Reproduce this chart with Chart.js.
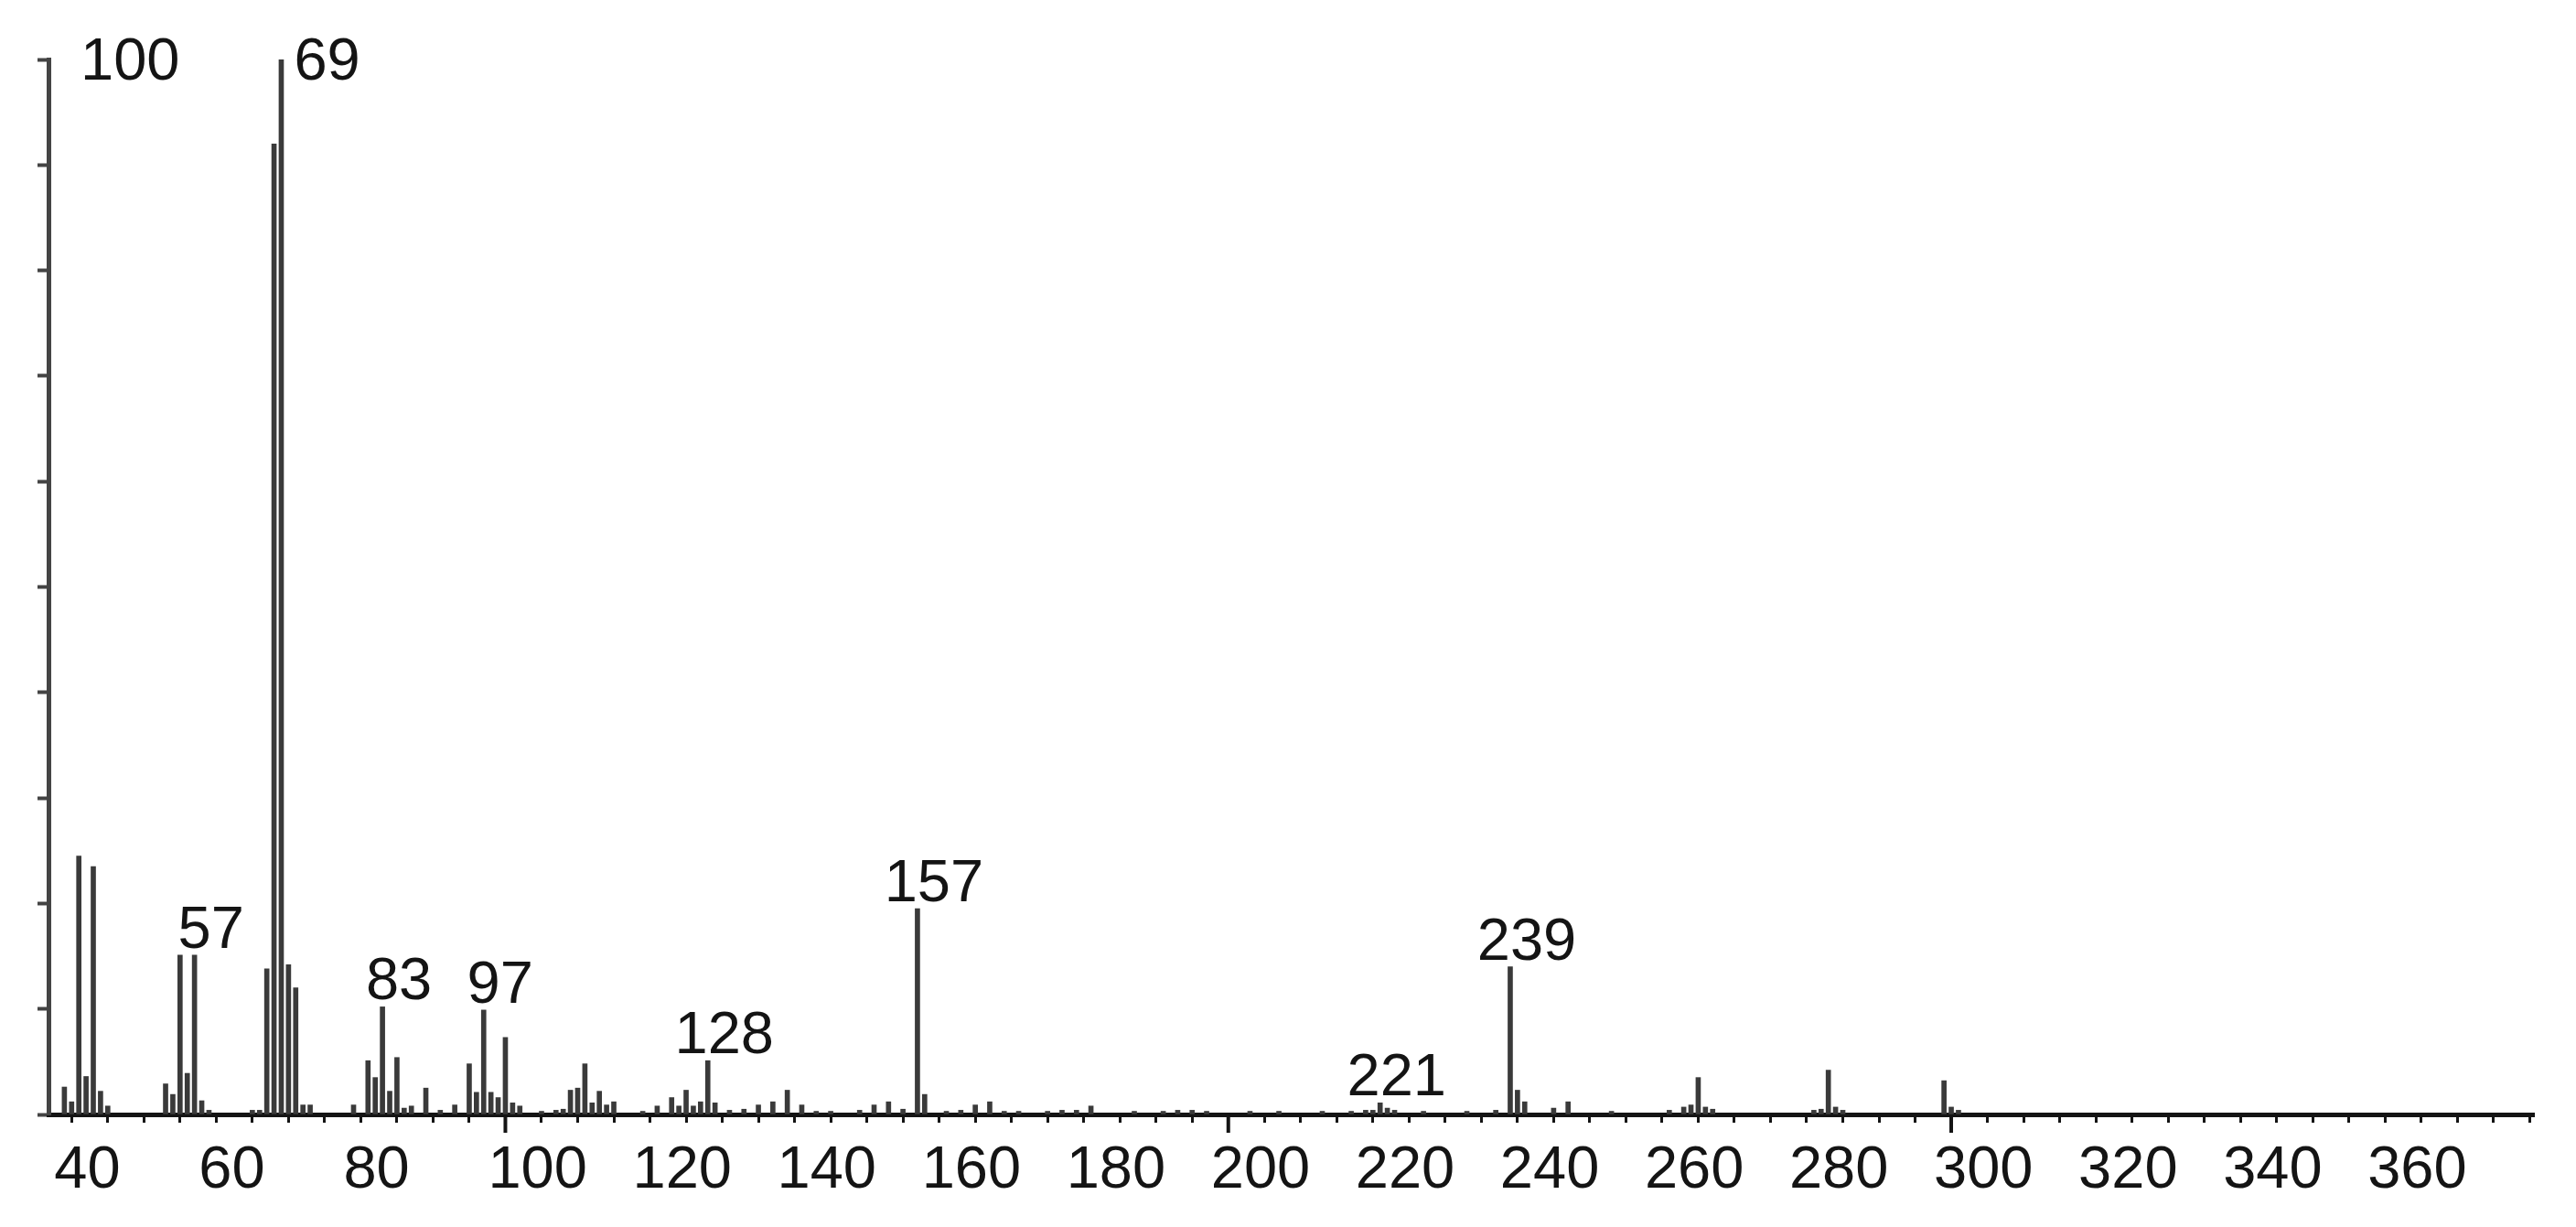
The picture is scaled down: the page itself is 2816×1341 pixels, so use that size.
<!DOCTYPE html>
<html>
<head>
<meta charset="utf-8">
<title>Mass spectrum</title>
<script src="https://cdn.jsdelivr.net/npm/chart.js@4.4.1/dist/chart.umd.min.js"></script>
<style>
  html, body { margin: 0; padding: 0; background: #fff; }
  #wrap { width: 2816px; height: 1341px; }
</style>
</head>
<body>
<div id="wrap"><canvas id="spectrum"></canvas></div>
<script>
// m/z of each peak and its relative intensity (%)
const masses = [
  39, 40, 41, 42, 43, 44, 45,
  53, 54, 55, 56, 57, 58, 59,
  65, 66, 67, 68, 69, 70, 71, 72, 73,
  79, 81, 82, 83, 84, 85, 86, 87, 89, 91, 93,
  95, 96, 97, 98, 99, 100, 101, 102, 105,
  107, 108, 109, 110, 111, 112, 113, 114, 115, 119,
  121, 123, 124, 125, 126, 127, 128, 129, 131, 133, 135, 137, 139, 141, 143, 145, 149,
  151, 153, 155, 157, 158, 161, 163, 165, 167, 169, 171, 175, 177, 179, 181,
  187, 191, 193, 195, 197, 203, 207, 213, 217, 219, 220, 221, 222, 223, 227, 233, 237,
  239, 240, 241, 245, 247, 253, 261, 263, 264, 265, 266, 267,
  281, 282, 283, 284, 285, 299, 300, 301
];
const intensities = [
  2.6, 1.2, 24.5, 3.6, 23.5, 2.2, 0.8,
  2.9, 1.9, 15.1, 3.9, 15.1, 1.3, 0.4,
  0.4, 0.4, 13.8, 92.0, 100, 14.2, 12.0, 0.9, 0.9,
  0.9, 5.1, 3.5, 10.2, 2.2, 5.4, 0.6, 0.8, 2.5, 0.4, 0.9,
  4.8, 2.1, 9.9, 2.1, 1.6, 7.3, 1.1, 0.8, 0.3,
  0.4, 0.5, 2.3, 2.5, 4.8, 1.1, 2.2, 0.9, 1.2, 0.3,
  0.8, 1.6, 0.8, 2.3, 0.8, 1.2, 5.1, 1.1, 0.4, 0.5, 0.9, 1.2, 2.3, 0.9, 0.3, 0.3, 0.4,
  0.9, 1.2, 0.5, 19.5, 1.9, 0.3, 0.4, 0.9, 1.2, 0.3, 0.3, 0.3, 0.4, 0.4, 0.8,
  0.3, 0.3, 0.4, 0.4, 0.3, 0.3, 0.3, 0.3, 0.3, 0.4, 0.4, 1.1, 0.6, 0.4, 0.3, 0.3, 0.4,
  14.0, 2.3, 1.2, 0.6, 1.2, 0.3, 0.4, 0.7, 0.9, 3.5, 0.7, 0.5,
  0.4, 0.5, 4.2, 0.7, 0.4, 3.2, 0.7, 0.4
];

// peaks that carry their m/z as a label
const labeledMasses = [57, 69, 83, 97, 128, 157, 221, 239];

// axis text
const xTickLabels = [40, 60, 80, 100, 120, 140, 160, 180, 200, 220, 240, 260, 280, 300, 320, 340, 360];
const majorTicks = [100, 200, 300];
const yMaxLabel = '100';

const minorTicks = [];
for (let v = 40; v <= 380; v += 5) minorTicks.push(v);

const FONT = '"Liberation Sans", Arial, sans-serif';
const INK = '#141414';
const BAR = '#3a3a3a';

const points = masses.map((m, i) => ({ x: m, y: intensities[i] }));

// draws peak labels, the "100" near the y axis top and the long ticks at each hundred
const peakLabels = {
  id: 'peakLabels',
  afterDraw(chart) {
    const { ctx } = chart;
    const x = chart.scales.x;
    const y = chart.scales.y;
    const topLine = y.getPixelForValue(100) + 22;

    ctx.save();
    ctx.fillStyle = INK;
    ctx.font = '65px ' + FONT;
    ctx.textBaseline = 'alphabetic';

    ctx.textAlign = 'left';
    ctx.fillText(yMaxLabel, x.left + 35, topLine);

    labeledMasses.forEach(m => {
      const v = intensities[masses.indexOf(m)];
      const px = x.getPixelForValue(m);
      if (v >= 100) {
        ctx.textAlign = 'left';
        ctx.fillText(String(m), px + 14, topLine);
      } else {
        ctx.textAlign = 'center';
        ctx.fillText(String(m), px + 18, y.getPixelForValue(v) - 8);
      }
    });

    ctx.strokeStyle = INK;
    ctx.lineWidth = 4;
    majorTicks.forEach(m => {
      const px = x.getPixelForValue(m);
      ctx.beginPath();
      ctx.moveTo(px, y.bottom);
      ctx.lineTo(px, y.bottom + 20);
      ctx.stroke();
    });
    ctx.restore();
  }
};

new Chart(document.getElementById('spectrum'), {
  type: 'bar',
  data: {
    datasets: [{
      data: points,
      backgroundColor: BAR,
      barThickness: 5,
      grouped: false
    }]
  },
  options: {
    responsive: true,
    maintainAspectRatio: false,
    animation: false,
    layout: { padding: { top: 65, right: 46, left: 0, bottom: 0 } },
    plugins: {
      legend: { display: false },
      tooltip: { enabled: false }
    },
    scales: {
      x: {
        type: 'linear',
        min: 36.8,
        max: 380.6,
        offset: false,
        afterBuildTicks: axis => { axis.ticks = minorTicks.map(v => ({ value: v })); },
        afterFit: scale => { scale.height = 123; },
        grid: {
          drawOnChartArea: false,
          offset: false,
          tickLength: 9,
          tickWidth: 3,
          tickColor: INK
        },
        border: { display: true, color: INK, width: 5 },
        ticks: {
          autoSkip: false,
          maxRotation: 0,
          align: 'start',
          labelOffset: -19,
          padding: 14,
          color: INK,
          font: { family: FONT, size: 65 },
          callback: v => xTickLabels.includes(v) ? String(v) : ''
        }
      },
      y: {
        min: 0,
        max: 100,
        afterFit: scale => { scale.width = 53; },
        grid: {
          drawOnChartArea: false,
          tickLength: 12,
          tickWidth: 4,
          tickColor: '#444'
        },
        border: { display: true, color: '#444', width: 5 },
        ticks: { display: false, stepSize: 10 }
      }
    }
  },
  plugins: [peakLabels]
});
</script>
</body>
</html>
